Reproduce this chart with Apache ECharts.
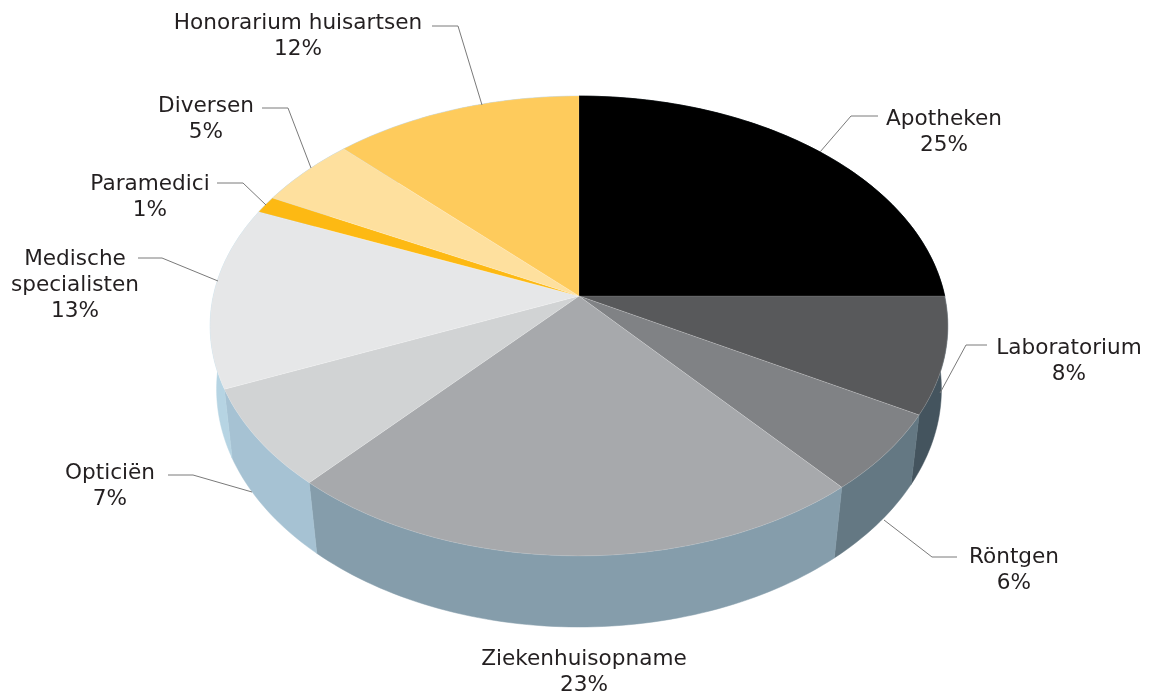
<!DOCTYPE html>
<html><head><meta charset="utf-8">
<style>html,body{margin:0;padding:0;background:#fff}#c{width:1150px;height:693px}</style>
<script src="https://cdn.jsdelivr.net/npm/echarts@6/dist/echarts.min.js"></script>
</head><body><div id="c"></div>
<script>
// Data
const categories = ['Apotheken','Laboratorium','Röntgen','Ziekenhuisopname','Opticiën','Medische\nspecialisten','Paramedici','Diversen','Honorarium huisartsen'];
const values = [25, 8.2, 5.6, 22.8, 7, 12.8, 1.2, 5, 12.4];
// Style
const topColors = ['#000000','#58595b','#808285','#a7a9ac','#d1d3d4','#e6e7e8','#fdb913','#fee09e','#fecb5c'];
const wallColors = ['#2f3d45','#44545e','#647883','#859dab','#a6c2d3','#b6d4e3','#a6c2d3','#a6c2d3','#a6c2d3'];
// Perspective of the pie plane: top and bottom rim
const cx = 579;
const topRim = {y0: 296, ax: 365.7, by: 226, k: 0.1304};
const botRim = {y0: 361.8, ax: 360, by: 234.7, k: 0.115};
// Label centres and leader lines (elbow + end), per category
const labelCentres = [[944,119],[1069,348],[1014,557],[584,659],[110,473],[75,259],[150,184],[206,106],[298,23]];
const leaders = [
 [[820,152],[851,116],[878,116]],
 [[940,393],[966,345],[987,345]],
 [[884,520],[932,557],[957,557]],
 null,
 [[252,492],[193,475],[168,475]],
 [[218,281],[162,258],[138,258]],
 [[266,205],[243,183],[217,183]],
 [[311,168],[288,108],[262,108]],
 [[482,105],[458,26],[432,26]]
];
const font = 'DejaVu Sans', fontSize = 21.6, lineH = 26;

const total = values.reduce((a,b)=>a+b,0);
let cum = 0;
const spans = values.map(v=>{const s=[cum,cum+v];cum+=v;return s;});
function proj(rim, frac){
  const t = frac/total*2*Math.PI, u=Math.sin(t), v=Math.cos(t), w=1+rim.k*v;
  return [cx+rim.ax*u/w, rim.y0-rim.by*v/w];
}
function arc(rim,a,b){
  const n=Math.max(2,Math.ceil((b-a)*3)), pts=[];
  for(let i=0;i<=n;i++) pts.push(proj(rim,a+(b-a)*i/n));
  return pts;
}
const rows = categories.map((c,i)=>[i,values[i]]);
const chart = echarts.init(document.getElementById('c'),null,{renderer:'canvas'});
chart.setOption({
  animation:false,
  backgroundColor:'#fff',
  series:[
  {type:'custom',coordinateSystem:'none',data:rows,z:1,silent:true,
   renderItem(p,api){
     const i=api.value(0),[a,b]=spans[i];
     return {type:'polygon',shape:{points:arc(topRim,a,b).concat(arc(botRim,a,b).reverse())},
       style:{fill:wallColors[i],stroke:wallColors[i],lineWidth:0.5}};
   }},
  {type:'custom',coordinateSystem:'none',data:rows,z:2,silent:true,
   renderItem(p,api){
     const i=api.value(0),[a,b]=spans[i];
     return {type:'polygon',shape:{points:[[cx,topRim.y0]].concat(arc(topRim,a,b))},
       style:{fill:topColors[i],stroke:i===0?topColors[i]:'rgba(255,255,255,0.25)',lineWidth:0.6}};
   }},
  {type:'custom',coordinateSystem:'none',data:rows,z:3,silent:true,
   renderItem(p,api){
     const i=api.value(0),kids=[],lead=leaders[i];
     if(lead) kids.push({type:'polyline',shape:{points:lead},style:{fill:null,stroke:'#7a7a7a',lineWidth:1}});
     const [lx,ly]=labelCentres[i];
     kids.push({type:'text',x:lx,y:ly-lineH/2,style:{
       text:categories[i]+'\n'+Math.round(api.value(1))+'%',
       fill:'#231f20',font:fontSize+'px "'+font+'"',lineHeight:lineH,align:'center',verticalAlign:'top'}});
     return {type:'group',children:kids};
   }}
  ]
});
</script></body></html>
